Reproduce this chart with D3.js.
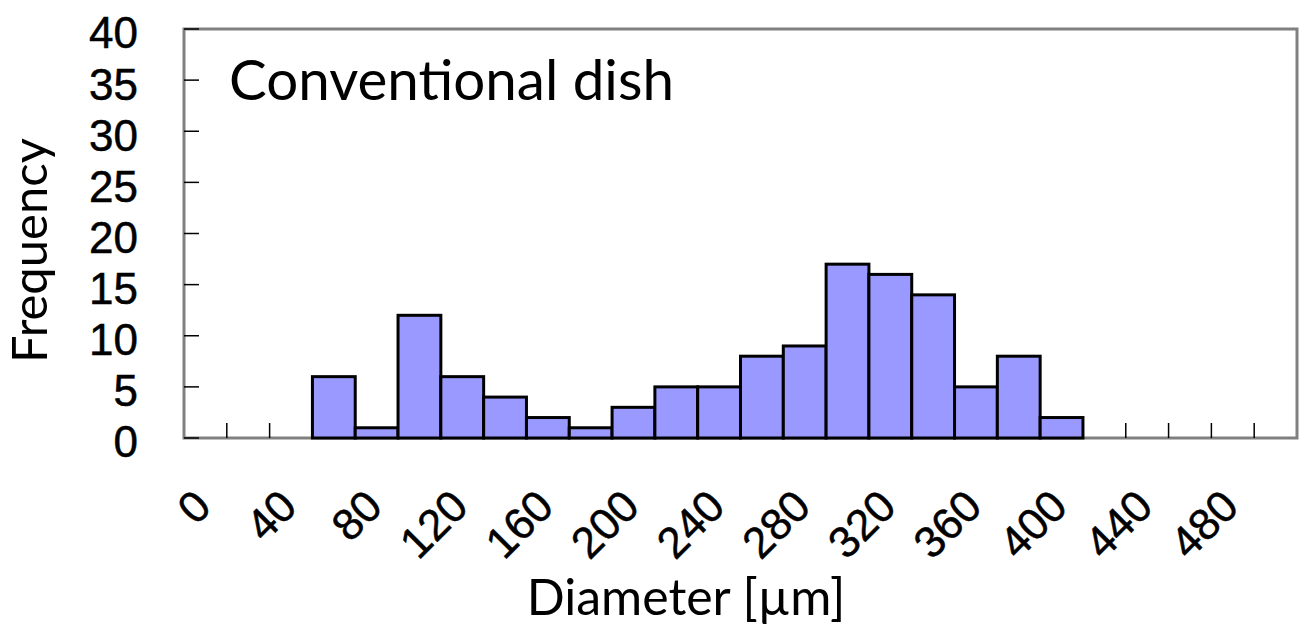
<html>
  <head>
    <meta charset="utf-8"/>
    <style>
      body { margin: 0; background: #fff; }
    </style>
  </head>
  <body>
    <svg></svg>
  </body>
  <script src="https://d3js.org/d3.v7.min.js"></script>
  <script>
  // diameter bins [um], bin width 20
  var bins = [0, 20, 40, 60, 80, 100, 120, 140, 160, 180, 200, 220, 240, 260,
              280, 300, 320, 340, 360, 380, 400, 420, 440, 460, 480, 500];
  var frequency = [0, 0, 0, 6, 1, 12, 6, 4, 2, 1, 3, 5, 5, 8,
                   9, 17, 16, 14, 5, 8, 2, 0, 0, 0, 0, 0];
  var xTickLabels = [0, 40, 80, 120, 160, 200, 240, 280, 320, 360, 400, 440, 480];
  var yTicks = [0, 5, 10, 15, 20, 25, 30, 35, 40];

  var margin = {top: 29, right: 8, bottom: 195, left: 184};
  var width = 1305 - margin.left - margin.right
  var height = 633 - margin.top - margin.bottom

  var svg = d3.select("svg")
    .attr("width", 1305)
    .attr("height", 633);

  var chart = svg.append("g")
    .attr("transform", "translate(" + margin.left + "," + margin.top + ")");

  var x = d3.scaleBand()
    .range([0, width])
    .padding(0)
    .domain(bins);

  var y = d3.scaleLinear()
    .domain([0, 40])
    .range([height, 0]);

  // frame
  chart.append("rect")
    .attr("x", 0).attr("y", 0)
    .attr("width", width).attr("height", height)
    .attr("fill", "none")
    .attr("stroke", "#808080")
    .attr("stroke-width", 3);

  // y ticks (inside)
  chart.selectAll(".ytick")
    .data(yTicks)
    .enter().append("line")
    .attr("x1", 0).attr("x2", 15)
    .attr("y1", function(d){ return y(d) })
    .attr("y2", function(d){ return y(d) })
    .attr("stroke", "#000")
    .attr("stroke-width", 1.5);

  // x ticks at bin boundaries (inside)
  chart.selectAll(".xtick")
    .data(bins.slice(1))
    .enter().append("line")
    .attr("x1", function(d){ return x(d) })
    .attr("x2", function(d){ return x(d) })
    .attr("y1", height).attr("y2", height - 15)
    .attr("stroke", "#000")
    .attr("stroke-width", 1.5);

  // bars
  chart.selectAll(".bar")
    .data(bins.filter(function(d, i){ return frequency[i] > 0 }))
    .enter().append("rect")
    .attr("x", function(d){ return x(d) })
    .attr("y", function(d){ return y(frequency[bins.indexOf(d)]) })
    .attr("width", x.bandwidth())
    .attr("height", function(d){ return height - y(frequency[bins.indexOf(d)]) })
    .attr("fill", "#9999ff")
    .attr("stroke", "#000")
    .attr("stroke-width", 3);

  // y labels
  chart.selectAll(".ylab")
    .data(yTicks)
    .enter().append("text")
    .attr("x", -46)
    .attr("y", function(d){ return y(d) + 4 })
    .attr("dy", "0.35em")
    .attr("text-anchor", "end")
    .style("font-family", "Liberation Sans, Arial, sans-serif")
    .style("font-size", "44px")
    .style("stroke", "#000")
    .style("stroke-width", "0.5px")
    .text(function(d){ return d });

  // x labels, rotated
  chart.selectAll(".xlab")
    .data(xTickLabels)
    .enter().append("text")
    .attr("transform", function(d){
      return "translate(" + (x(d) + x.bandwidth() / 2 + 8) + "," + (height + 71) + ") rotate(-45)";
    })
    .attr("text-anchor", "end")
    .style("font-family", "Liberation Sans, Arial, sans-serif")
    .style("font-size", "44px")
    .style("stroke", "#000")
    .style("stroke-width", "0.5px")
    .text(function(d){ return d });

  // in-plot title
  chart.append("text")
    .attr("x", 45)
    .attr("y", 71)
    .style("font-family", "Lato, sans-serif")
    .style("font-size", "56.5px")
    .text("Conventional dish");

  // axis titles
  svg.append("text")
    .attr("transform", "translate(47," + (margin.top + height / 2 + 17) + ") rotate(-90)")
    .attr("text-anchor", "middle")
    .style("font-family", "Lato, sans-serif")
    .style("font-size", "49px")
    .text("Frequency");

  svg.append("text")
    .attr("x", 686)
    .attr("y", 615)
    .attr("text-anchor", "middle")
    .style("font-family", "Lato, sans-serif")
    .style("font-size", "50px")
    .text("Diameter [µm]");
  </script>
</html>
